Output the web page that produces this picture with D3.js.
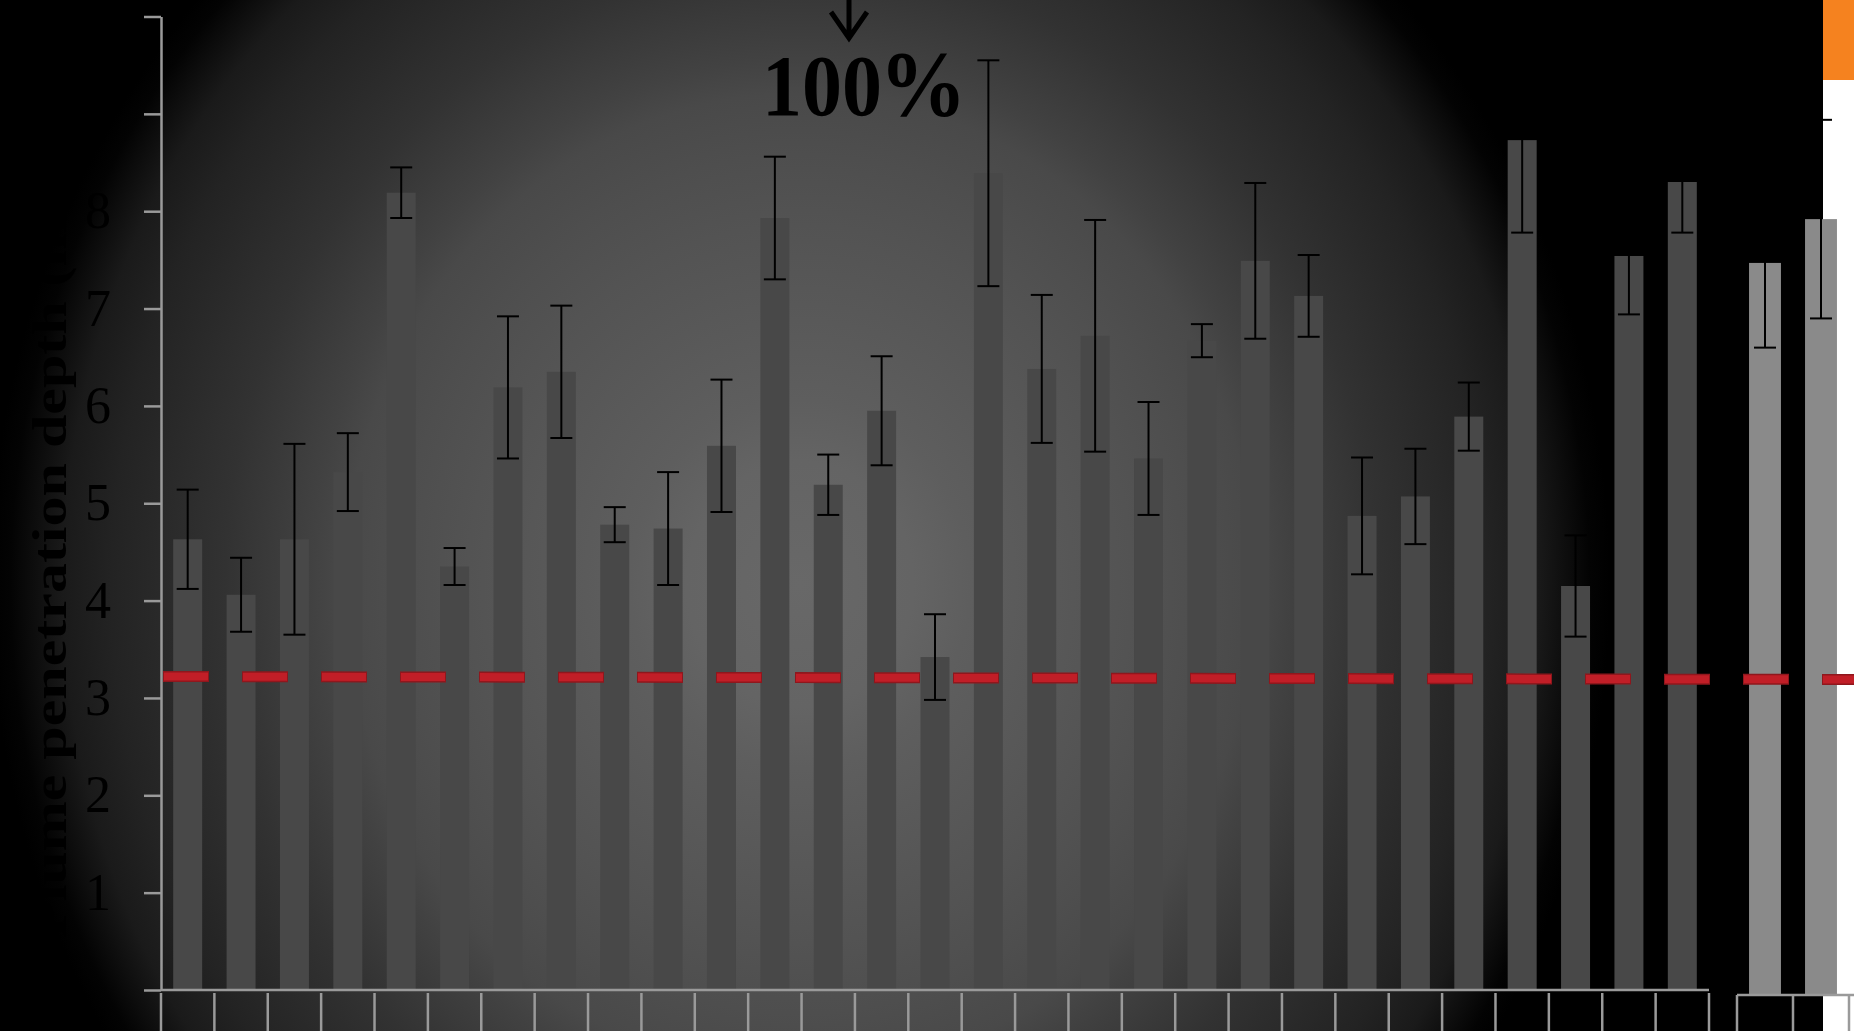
<!DOCTYPE html>
<html><head><meta charset="utf-8">
<script src="https://cdn.jsdelivr.net/npm/d3@7"></script>
<style>html,body{margin:0;padding:0;background:#000;overflow:hidden}</style>
</head><body><svg id="chart" width="1854" height="1031"></svg>
<script>
// ---------- data ----------
const categories = ["C1","C2","C3","C4","C5","C6","C7","C8","C9","C10","C11","C12","C13","C14","C15",
  "C16","C17","C18","C19","C20","C21","C22","C23","C24","C25","C26","C27","C28","C29"];
const values = [4.63,4.06,4.63,5.32,8.19,4.35,6.19,6.35,4.78,4.74,5.59,7.93,5.19,5.95,3.42,
  8.39,6.38,6.72,5.46,6.67,7.49,7.13,4.87,5.07,5.89,8.73,4.15,7.54,8.30];
const errors = [0.51,0.38,0.98,0.40,0.26,0.19,0.73,0.68,0.18,0.58,0.68,0.63,0.31,0.56,0.44,
  1.16,0.76,1.19,0.58,0.17,0.80,0.42,0.60,0.49,0.35,0.95,0.52,0.60,0.52];
const refCategories = ["R1","R2"];
const refValues = [7.52,7.97];
const refErrors = [0.87,1.02];
const yTicks = [0,1,2,3,4,5,6,7,8,9,10];
const yTickLabels = ["","1","2","3","4","5","6","7","8","",""];
const threshold = [3.22,3.19];   // value at left end, value at right end
const annotationNumber = "100";
const annotationUnit = "%";
const yTitle = "Plume penetration depth (mm)";

// ---------- setup ----------
const W = 1854, H = 1031;
const svg = d3.select("#chart");
const defs = svg.append("defs");
const grad = defs.append("radialGradient").attr("id","vig")
  .attr("cx",0.5).attr("cy",0.5).attr("r",0.5);
[[0,"#686868"],[0.14,"#646464"],[0.21,"#5e5e5e"],[0.41,"#535353"],[0.49,"#4e4e4e"],
 [0.56,"#494949"],[0.6,"#424242"],[0.71,"#323232"],[0.85,"#232323"],[0.91,"#1a1a1a"],
 [0.95,"#0c0c0c"],[0.975,"#030303"],[1,"#000000"]]
  .forEach(s=>grad.append("stop").attr("offset",s[0]).attr("stop-color",s[1]));

svg.append("rect").attr("width",W).attr("height",H).attr("fill","#000");
// elliptical vignette: centre (800,584), radii 810 x 876
svg.append("rect").attr("x",800-810).attr("y",584-876).attr("width",1620).attr("height",1752)
  .attr("fill","url(#vig)");

const x = d3.scaleBand().domain(categories).range([161,1709]).paddingInner(0.457).paddingOuter(0.2285);
const y = d3.scaleLinear().domain([0,10]).range([990,16.5]);
const x2 = d3.scaleBand().domain(refCategories).range([1737,1849]).paddingInner(0.43).paddingOuter(0.215);
const y2 = d3.scaleLinear().domain([0,10]).range([995,21.5]);

const axisColor = "#9a9a9a";
const serif = "'Liberation Serif','Times New Roman',serif";

// ---------- main bars ----------
const data = categories.map((c,i)=>({c, v:values[i], e:errors[i]}));
svg.append("g").selectAll("rect").data(data).join("rect")
  .attr("x",d=>x(d.c)).attr("width",x.bandwidth())
  .attr("y",d=>y(d.v)).attr("height",d=>y(0)-y(d.v))
  .attr("fill","#484848");

// error bars
const capHalf = 11;
const eg = svg.append("g").attr("stroke","#000").attr("stroke-width",2).attr("fill","none");
data.forEach(d=>{
  const cx = x(d.c)+x.bandwidth()/2;
  eg.append("line").attr("x1",cx).attr("x2",cx).attr("y1",y(d.v+d.e)).attr("y2",y(d.v-d.e));
  eg.append("line").attr("x1",cx-capHalf).attr("x2",cx+capHalf).attr("y1",y(d.v+d.e)).attr("y2",y(d.v+d.e));
  eg.append("line").attr("x1",cx-capHalf).attr("x2",cx+capHalf).attr("y1",y(d.v-d.e)).attr("y2",y(d.v-d.e));
});

// ---------- y axis ----------
const yAxis = d3.axisLeft(y).tickValues(yTicks).tickSize(17).tickSizeOuter(0).tickPadding(33)
  .tickFormat((d,i)=>yTickLabels[i]);
const gy = svg.append("g").attr("transform",`translate(${x.range()[0]},0)`).call(yAxis);
gy.select(".domain").attr("stroke",axisColor).attr("stroke-width",2.5);
gy.selectAll(".tick line").attr("stroke",axisColor).attr("stroke-width",2.5);
gy.selectAll(".tick text").attr("fill","#000").attr("font-size",52).attr("font-family",serif);

// y title
svg.append("text").attr("transform","translate(66,938) rotate(-90) scale(1,0.8)")
  .attr("font-family",serif).attr("font-weight","bold").attr("font-size",60)
  .attr("fill","#000").attr("text-anchor","start").text(yTitle);

// ---------- x axis ----------
const gx = svg.append("g").attr("stroke",axisColor).attr("stroke-width",2.5);
gx.append("line").attr("x1",x.range()[0]).attr("x2",x.range()[1]).attr("y1",y(0)).attr("y2",y(0));
const bounds = categories.map(c=>x(c)-x.step()*x.paddingInner()/2).concat([x.range()[1]]);
gx.selectAll("line.t").data(bounds).join("line").attr("class","t")
  .attr("x1",d=>d).attr("x2",d=>d).attr("y1",y(0)+3).attr("y2",H+5);

// ---------- annotation ----------
const ann = svg.append("text").attr("transform","translate(762,115) scale(0.93,1)")
  .attr("font-family",serif).attr("font-weight","bold").attr("fill","#000");
ann.append("tspan").attr("font-size",86).text(annotationNumber);
ann.append("tspan").attr("font-size",94).attr("dx",-3).text(annotationUnit);
svg.append("path").attr("d","M849,-2V36M831,12L849,38L867,12")
  .attr("stroke","#000").attr("stroke-width",5).attr("fill","none");

// ---------- right panel ----------
svg.append("rect").attr("x",1823).attr("y",0).attr("width",W-1823).attr("height",80).attr("fill","#f5821f");
svg.append("rect").attr("x",1823).attr("y",80).attr("width",W-1823).attr("height",H-80).attr("fill","#ffffff");

const ref = refCategories.map((c,i)=>({c, v:refValues[i], e:refErrors[i]}));
svg.append("g").selectAll("rect").data(ref).join("rect")
  .attr("x",d=>x2(d.c)).attr("width",x2.bandwidth())
  .attr("y",d=>y2(d.v)).attr("height",d=>y2(0)-y2(d.v))
  .attr("fill","#8a8a8a");
const eg2 = svg.append("g").attr("stroke","#000").attr("stroke-width",2).attr("fill","none");
ref.forEach(d=>{
  const cx = x2(d.c)+x2.bandwidth()/2;
  eg2.append("line").attr("x1",cx).attr("x2",cx).attr("y1",y2(d.v+d.e)).attr("y2",y2(d.v-d.e));
  eg2.append("line").attr("x1",cx-capHalf).attr("x2",cx+capHalf).attr("y1",y2(d.v+d.e)).attr("y2",y2(d.v+d.e));
  eg2.append("line").attr("x1",cx-capHalf).attr("x2",cx+capHalf).attr("y1",y2(d.v-d.e)).attr("y2",y2(d.v-d.e));
});
const gx2 = svg.append("g").attr("stroke",axisColor).attr("stroke-width",2.5);
gx2.append("line").attr("x1",x2.range()[0]).attr("x2",W).attr("y1",y2(0)).attr("y2",y2(0));
const bounds2 = refCategories.map(c=>x2(c)-x2.step()*x2.paddingInner()/2).concat([x2.range()[1]]);
gx2.selectAll("line.t").data(bounds2).join("line").attr("class","t")
  .attr("x1",d=>d).attr("x2",d=>d).attr("y1",y2(0)).attr("y2",H+5);

// ---------- threshold dashed line ----------
const xs = [163, W];
svg.append("line").attr("x1",xs[0]).attr("x2",xs[1]).attr("y1",y(threshold[0])).attr("y2",y(threshold[1]))
  .attr("stroke","#8f171d").attr("stroke-width",11).attr("stroke-dasharray","46 33");
svg.append("line").attr("x1",xs[0]).attr("x2",xs[1]).attr("y1",y(threshold[0])).attr("y2",y(threshold[1]))
  .attr("stroke","#c11e27").attr("stroke-width",8).attr("stroke-dasharray","44 35").attr("stroke-dashoffset",-1);
</script></body></html>
